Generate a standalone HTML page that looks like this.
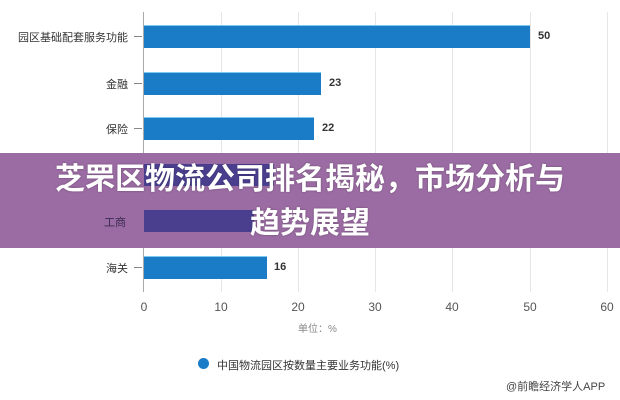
<!DOCTYPE html>
<html><head><meta charset="utf-8"><style>
body{margin:0;width:620px;height:400px;background:#fff;overflow:hidden;position:relative;font-family:"Liberation Sans","Noto Sans CJK SC",sans-serif}
.a{position:absolute}
.lbl{position:absolute;right:492px;font-size:11px;color:#333;text-align:right;white-space:nowrap}
.tk{position:absolute;left:134px;width:8px;height:1px;background:#888}
.bar{position:absolute;left:144px;height:22px;background:#1a7cc7;border-top:1px solid #7ec8f0}
.v{position:absolute;font-size:11px;font-weight:bold;color:#333}
.x{position:absolute;top:300px;font-size:12px;color:#555;width:30px;margin-left:-15px;text-align:center}
.g{position:absolute;top:12px;height:280px;width:1px;background:#e6e6e6}
</style></head><body>
<div class="g" style="left:221px"></div><div class="g" style="left:298px"></div><div class="g" style="left:375px"></div><div class="g" style="left:452px"></div><div class="g" style="left:530px"></div><div class="g" style="left:607px"></div>
<div class="a" style="left:143px;top:12px;width:1px;height:280px;background:#aaa"></div>

<div class="lbl" style="top:29px">园区基础配套服务功能</div><div class="tk" style="top:36px"></div>
<div class="bar" style="top:25px;width:386px"></div><div class="v" style="left:538px;top:30px">50</div>
<div class="lbl" style="top:76px">金融</div><div class="tk" style="top:83px"></div>
<div class="bar" style="top:72px;width:177px"></div><div class="v" style="left:329px;top:77px">23</div>
<div class="lbl" style="top:121px">保险</div><div class="tk" style="top:128px"></div>
<div class="bar" style="top:117px;width:170px"></div><div class="v" style="left:322px;top:122px">22</div>
<div class="lbl" style="top:260px">海关</div><div class="tk" style="top:267px"></div>
<div class="bar" style="top:256px;width:123px"></div><div class="v" style="left:274px;top:261px">16</div>

<div class="x" style="left:144px">0</div><div class="x" style="left:221px">10</div><div class="x" style="left:298px">20</div><div class="x" style="left:375px">30</div><div class="x" style="left:452px">40</div><div class="x" style="left:530px">50</div><div class="x" style="left:607px">60</div>
<div class="a" style="left:298px;top:320px;font-size:10px;color:#888">单位：%</div>
<div class="a" style="left:198px;top:358px;width:11px;height:11px;border-radius:50%;background:#1a7cc7"></div>
<div class="a" style="left:217px;top:357px;font-size:11px;color:#333">中国物流园区按数量主要业务功能(%)</div>
<div class="a" style="left:506px;top:378px;font-size:11px;color:#444">@前瞻经济学人APP</div>

<div class="a" style="left:0;top:153px;width:620px;height:95px;background:#9b6ca3"></div>
<div class="a" style="left:144px;top:164px;width:130px;height:22px;background:#4a3f8f"></div>
<div class="a" style="left:144px;top:210px;width:110px;height:22px;background:#4a3f8f"></div>
<div class="a" style="left:104px;top:214px;font-size:11px;color:#3a2a50">工商</div>
<div class="a" style="left:0;top:158px;width:620px;text-align:center;color:#fff;font-weight:bold;font-size:30px;line-height:44px;text-shadow:0 0 2px rgba(0,0,0,.3)">芝罘区物流公司排名揭秘，市场分析与<br>趋势展望</div>
</body></html>
